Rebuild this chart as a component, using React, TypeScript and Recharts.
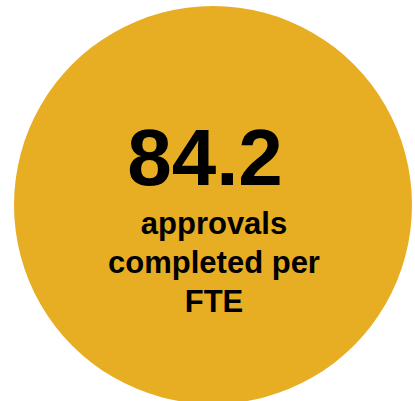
import React from "react";
import { PieChart, Pie, Cell, Label } from "recharts";

const metricNames: string[] = ["approvals completed per FTE"];
const metricValues: number[] = [84.2];
const valueLabels: string[] = ["84.2"];
const captionLines: string[] = ["approvals", "completed per", "FTE"];
const fillColors: string[] = ["#E7AE23"];

const data = metricNames.map((name, i) => ({ name, value: metricValues[i] }));

const FONT = '"Liberation Sans", Arial, Helvetica, sans-serif';

const CenterContent = (props: any) => {
  const vb = props.viewBox || {};
  const cx = vb.cx ?? 213;
  const cy = vb.cy ?? 205;
  return (
    <g>
      <text
        x={cx - 8}
        y={cy - 20}
        textAnchor="middle"
        fontFamily={FONT}
        fontWeight="bold"
        fontSize={80}
        fill="#000"
      >
        {valueLabels[0]}
      </text>
      {captionLines.map((line, i) => (
        <text
          key={line}
          x={cx + 1}
          y={cy + 29 + i * 39}
          textAnchor="middle"
          fontFamily={FONT}
          fontWeight="bold"
          fontSize={31}
          fill="#000"
        >
          {line}
        </text>
      ))}
    </g>
  );
};

export default function App() {
  return (
    <div style={{ position: "absolute", left: 0, top: 0, width: 415, height: 401 }}>
      <PieChart width={415} height={401} margin={{ top: 0, right: 0, bottom: 0, left: 0 }}>
        <Pie
          data={data}
          dataKey="value"
          nameKey="name"
          cx={213}
          cy={205}
          innerRadius={0}
          outerRadius={199}
          startAngle={90}
          endAngle={-270}
          stroke="none"
          isAnimationActive={false}
          labelLine={false}
        >
          {data.map((d, i) => (
            <Cell key={d.name} fill={fillColors[i]} />
          ))}
          <Label position="center" content={<CenterContent />} />
        </Pie>
      </PieChart>
    </div>
  );
}
